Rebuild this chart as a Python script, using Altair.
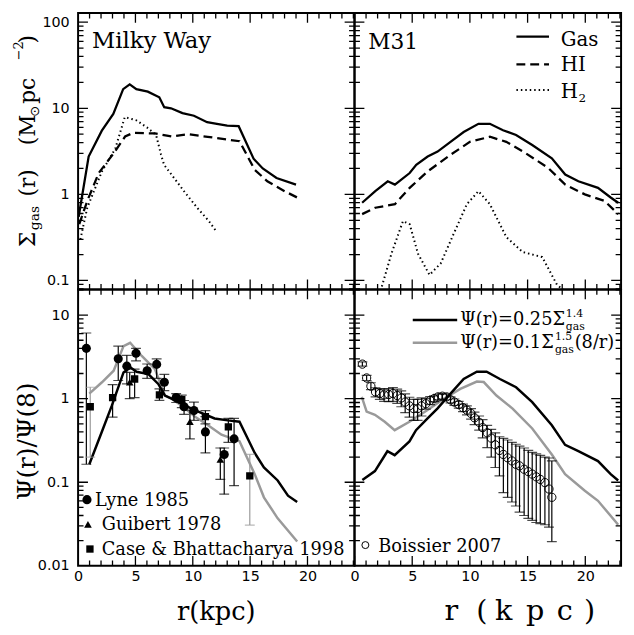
import math
import altair as alt
import pandas as pd

alt.data_transformers.consolidate_datasets = False

# ---------------- data ----------------
# Milky Way gas surface densities (Msun/pc^2)
mw_gas_r = [0.05, 0.92, 2.07, 3.07, 3.93, 4.5, 5.08, 6.08, 7.08, 7.51, 8.1, 9.1, 10.1, 11.25, 12.1, 13.0, 14.0, 15.3, 16.1, 17.3, 19.0]
mw_gas_v = [0.55, 2.75, 5.5, 8.6, 16.7, 19.0, 16.7, 15.6, 13.4, 10.3, 10.0, 8.8, 8.2, 6.9, 6.6, 6.3, 6.2, 2.6, 2.0, 1.55, 1.3]
mw_hi_r = [0.1, 0.8, 1.8, 3.1, 4.1, 4.83, 6.7, 8.15, 9.6, 11.3, 14.07, 15.4, 16.5, 18.0, 19.1]
mw_hi_v = [0.45, 0.84, 1.77, 3.0, 4.7, 5.2, 5.1, 4.7, 5.0, 4.66, 4.15, 1.93, 1.42, 1.09, 0.92]
mw_h2_r = [0.2, 0.8, 2.08, 3.24, 4.07, 5.08, 6.0, 6.8, 7.23, 7.5, 8.37, 9.23, 10.38, 11.4, 12.0]
mw_h2_v = [0.3, 0.7, 1.85, 3.4, 7.9, 7.25, 6.0, 4.9, 2.9, 2.2, 1.55, 1.09, 0.70, 0.49, 0.38]

# M31 gas surface densities
m31_gas_r = [0.66, 1.8, 2.88, 3.5, 4.78, 5.35, 6.34, 7.2, 8.32, 9.46, 10.74, 11.73, 12.87, 14.0, 15.4, 17.1, 18.26, 19.4, 21.1, 22.2, 22.85]
m31_gas_v = [0.80, 1.09, 1.42, 1.3, 1.77, 2.2, 2.75, 3.14, 4.08, 5.3, 6.6, 6.6, 5.56, 4.9, 3.74, 2.63, 1.7, 1.42, 1.19, 0.92, 0.80]
m31_hi_r = [0.66, 1.8, 3.5, 4.78, 6.34, 8.32, 10.0, 11.73, 13.15, 14.85, 16.8, 18.26, 19.96, 21.66, 22.85]
m31_hi_v = [0.59, 0.70, 0.77, 1.19, 1.85, 2.88, 4.08, 4.67, 4.08, 3.0, 2.02, 1.3, 1.0, 0.84, 0.59]
m31_h2_r = [2.37, 3.2, 4.2, 4.78, 5.5, 6.5, 7.47, 8.6, 9.74, 10.74, 11.73, 13.15, 14.57, 16.27, 17.55, 18.5]
m31_h2_v = [0.085, 0.205, 0.49, 0.45, 0.205, 0.116, 0.158, 0.35, 0.77, 1.09, 0.77, 0.32, 0.214, 0.187, 0.089, 0.07]

# Milky Way star formation models, normalised at 8 kpc
mw_k_r = [0.98, 2.08, 2.95, 3.96, 4.54, 5.1, 6.13, 6.99, 7.57, 8.15, 9.16, 10.17, 11.9, 13.06, 14.07, 15.4, 16.2, 17.4, 18.3, 19.1]
mw_k_v = [0.164, 0.405, 0.83, 2.06, 2.37, 2.1, 1.97, 1.5, 1.09, 1.0, 0.85, 0.73, 0.58, 0.55, 0.53, 0.224, 0.15, 0.105, 0.069, 0.058]
mw_g_r = [0.98, 2.08, 3.1, 3.96, 4.54, 5.55, 6.7, 7.57, 8.15, 9.16, 10.17, 11.3, 12.5, 14.07, 15.4, 16.2, 17.4, 19.1]
mw_g_v = [1.15, 1.57, 2.16, 4.25, 4.66, 3.24, 2.26, 1.09, 1.0, 0.80, 0.61, 0.485, 0.37, 0.31, 0.125, 0.066, 0.037, 0.0195]

# M31 star formation models
m31_k_r = [0.68, 1.77, 2.85, 3.48, 4.76, 5.33, 6.33, 7.18, 8.32, 9.46, 10.6, 11.45, 12.6, 14.0, 15.4, 17.1, 18.25, 19.4, 21.1, 22.2, 22.85]
m31_k_v = [0.106, 0.136, 0.235, 0.211, 0.308, 0.42, 0.58, 0.76, 1.15, 1.72, 2.1, 2.1, 1.72, 1.37, 0.91, 0.48, 0.28, 0.235, 0.179, 0.125, 0.105]
m31_g_r = [0.63, 1.05, 1.77, 2.62, 3.48, 4.76, 6.33, 7.75, 9.17, 10.6, 11.2, 12.3, 13.7, 15.4, 17.1, 18.25, 19.96, 21.1, 22.85]
m31_g_v = [1.05, 0.70, 0.64, 0.53, 0.42, 0.53, 0.73, 1.0, 1.31, 1.6, 1.58, 1.09, 0.76, 0.44, 0.215, 0.125, 0.079, 0.06, 0.031]

# Observations (Milky Way)
lyne_r = [0.72, 3.5, 4.25, 5.05, 6.02, 6.85, 7.52, 8.55, 9.24, 10.1, 11.1, 12.74, 13.6]
lyne_v = [4.0, 3.0, 2.45, 3.5, 2.16, 2.57, 1.57, 1.03, 0.80, 0.72, 0.40, 0.215, 0.33]
lyne_lo = [0.164, 1.65, 1.5, 2.83, 1.75, 1.75, 1.25, 0.9, 0.65, 0.55, 0.224, 0.072, 0.091]
lyne_hi = [6.1, 4.25, 3.3, 4.0, 2.6, 3.0, 1.95, 1.15, 0.95, 0.91, 0.61, 0.257, 0.58]
gui_r = [4.5, 9.75, 12.4]
gui_v = [1.57, 0.53, 0.187]
gui_lo = [1.0, 0.33, 0.108]
gui_hi = [2.06, 0.73, 0.257]
case_r = [1.06, 3.01, 4.93, 7.09, 9.04, 11.1, 13.1, 14.97]
case_v = [0.80, 1.03, 1.72, 1.11, 0.97, 0.61, 0.46, 0.119]
case_lo = [0.2, 0.6, 1.03, 0.955, 0.78, 0.5, 0.3, 0.0307]
case_hi = [1.37, 1.47, 2.26, 1.31, 1.1, 0.72, 0.58, 0.215]
case_gray_bar = [True, False, False, False, False, False, False, True]

# Observations (M31, Boissier 2007)
bo_r = [0.68, 1.05, 1.42, 1.82, 2.19, 2.56, 2.96, 3.33, 3.70, 4.05, 4.39, 4.76, 5.13, 5.47, 5.81, 6.18,
        6.55, 6.89, 7.24, 7.61, 7.98, 8.32, 8.66, 9.03, 9.40, 9.74, 10.1, 10.4, 10.8, 11.1, 11.5, 11.85,
        12.2, 12.56, 12.9, 13.27, 13.64, 13.98, 14.3, 14.7, 15.06, 15.4, 15.75, 16.1, 16.5, 16.85, 17.1]
bo_v = [2.59, 1.77, 1.41, 1.20, 1.15, 1.11, 1.12, 1.15, 1.09, 1.02, 0.91, 0.82, 0.76, 0.76, 0.82, 0.87,
        0.95, 1.0, 1.05, 1.07, 1.05, 0.97, 0.91, 0.85, 0.78, 0.73, 0.665, 0.59, 0.52, 0.45, 0.39, 0.337,
        0.28, 0.24, 0.215, 0.196, 0.18, 0.164, 0.157, 0.143, 0.134, 0.125, 0.116, 0.108, 0.099, 0.083, 0.066]
bo_lo = [2.45, 1.65, 1.28, 1.05, 0.98, 0.93, 0.92, 0.93, 0.88, 0.80, 0.68, 0.60, 0.55, 0.55, 0.62, 0.75,
         0.85, 0.92, 0.97, 0.99, 0.97, 0.89, 0.83, 0.77, 0.70, 0.64, 0.57, 0.49, 0.42, 0.34, 0.26, 0.2,
         0.15, 0.119, 0.075, 0.066, 0.058, 0.052, 0.044, 0.04, 0.037, 0.035, 0.033, 0.032, 0.031, 0.029, 0.0195]
bo_hi = [2.75, 1.9, 1.55, 1.35, 1.32, 1.3, 1.32, 1.36, 1.3, 1.24, 1.14, 1.04, 0.98, 0.98, 1.02, 1.0,
         1.06, 1.08, 1.13, 1.15, 1.13, 1.05, 0.99, 0.93, 0.86, 0.82, 0.76, 0.69, 0.62, 0.56, 0.48, 0.43,
         0.39, 0.35, 0.335, 0.32, 0.3, 0.285, 0.27, 0.257, 0.24, 0.228, 0.218, 0.21, 0.2, 0.195, 0.18]

# axis ticks / labels
x_major = [0, 5, 10, 15, 20]
x_minor_left = [1, 2, 3, 4, 6, 7, 8, 9, 11, 12, 13, 14, 16, 17, 18, 19, 21, 22, 23, 24]
x_minor_right = [1, 2, 3, 4, 6, 7, 8, 9, 11, 12, 13, 14, 16, 17, 18, 19, 21, 22, 23]
y_major_top = [0.1, 1, 10, 100]
y_minor_top = [0.08, 0.09, 0.2, 0.3, 0.4, 0.5, 0.6, 0.7, 0.8, 0.9, 2, 3, 4, 5, 6, 7, 8, 9,
               20, 30, 40, 50, 60, 70, 80, 90]
y_major_bot = [0.01, 0.1, 1, 10]
y_minor_bot = [0.02, 0.03, 0.04, 0.05, 0.06, 0.07, 0.08, 0.09, 0.2, 0.3, 0.4, 0.5, 0.6, 0.7, 0.8, 0.9,
               2, 3, 4, 5, 6, 7, 8, 9, 20]

# ---------------- layout constants ----------------
SERIF = "DejaVu Serif"
SANS = "DejaVu Sans"
GRAY = "#9a9a9a"
W_L, W_R, H = 280, 270, 280
XL, XR = [0, 24.1], [0, 23.1]
YT, YB = [0.0788, 128], [0.01, 20.3]
MAJ, MIN = 10, 5.5   # tick lengths in pixels


def xsc(dom):
    return alt.Scale(domain=dom, nice=False, zero=False)


def ysc(dom):
    return alt.Scale(type="log", domain=dom, nice=False)


def df_of(r, v, lo=None, hi=None):
    d = {"r": r, "v": v}
    if lo is not None:
        d["lo"] = lo
        d["hi"] = hi
    return pd.DataFrame(d)


def line(r, v, xd, yd, color="black", dash=None, width=2.3):
    kw = dict(color=color, strokeWidth=width, clip=True)
    if dash:
        kw["strokeDash"] = dash
    return alt.Chart(df_of(r, v)).mark_line(**kw).encode(
        x=alt.X("r:Q", scale=xsc(xd), axis=None),
        y=alt.Y("v:Q", scale=ysc(yd), axis=None),
    )


def errbars(df, xd, yd, color="black"):
    base = alt.Chart(df)
    bar = base.mark_rule(color=color, strokeWidth=1.2, clip=True).encode(
        x=alt.X("r:Q", scale=xsc(xd), axis=None),
        y=alt.Y("lo:Q", scale=ysc(yd), axis=None),
        y2="hi:Q",
    )
    caps = []
    for fld in ("lo", "hi"):
        caps.append(base.mark_tick(color=color, orient="horizontal", size=10, thickness=1.2, clip=True).encode(
            x=alt.X("r:Q", scale=xsc(xd), axis=None),
            y=alt.Y(fld + ":Q", scale=ysc(yd), axis=None),
        ))
    return [bar] + caps


def points(df, xd, yd, shape, size, filled=True):
    kw = dict(shape=shape, size=size, color="black", opacity=1, clip=True, filled=filled)
    if not filled:
        kw["strokeWidth"] = 1
    return alt.Chart(df).mark_point(**kw).encode(
        x=alt.X("r:Q", scale=xsc(xd), axis=None),
        y=alt.Y("v:Q", scale=ysc(yd), axis=None),
    )


def txt(s, x, y, size, font=SERIF, align="left", baseline="alphabetic", angle=None, color="black"):
    kw = dict(align=align, baseline=baseline, fontSize=size, font=font, color=color)
    if angle is not None:
        kw["angle"] = angle
    return alt.Chart(pd.DataFrame({"label": [s]})).mark_text(**kw).encode(
        text="label:N", x=alt.value(x), y=alt.value(y)
    )


def hline(x1, x2, y, color="black", dash=None, width=2.3):
    kw = dict(color=color, strokeWidth=width)
    if dash:
        kw["strokeDash"] = dash
    return alt.Chart(pd.DataFrame({"a": [0]})).mark_rule(**kw).encode(
        x=alt.value(x1), x2=alt.value(x2), y=alt.value(y)
    )


def symbol(x, y, shape, size, filled=True):
    kw = dict(shape=shape, size=size, color="black", opacity=1, filled=filled)
    if not filled:
        kw["strokeWidth"] = 1
    return alt.Chart(pd.DataFrame({"a": [0]})).mark_point(**kw).encode(
        x=alt.value(x), y=alt.value(y)
    )


def frame_ticks(xd, yd, W, Hh, xminor, ymaj, ymin):
    """Inward frame ticks drawn as short rules (like error bars) through the panel scales."""
    px_per_dec = Hh / math.log10(yd[1] / yd[0])
    kpc_per_px = (xd[1] - xd[0]) / W
    out = []
    for vals, ln in ((x_major, MAJ), (xminor, MIN)):
        f = 10 ** (ln / px_per_dec)
        n = len(vals)
        for lo, hi in ((yd[0], yd[0] * f), (yd[1] / f, yd[1])):
            d = pd.DataFrame({"r": vals, "lo": [lo] * n, "hi": [hi] * n})
            out.append(alt.Chart(d).mark_rule(color="black", strokeWidth=1.3, clip=True).encode(
                x=alt.X("r:Q", scale=xsc(xd), axis=None),
                y=alt.Y("lo:Q", scale=ysc(yd), axis=None),
                y2="hi:Q",
            ))
    for vals, ln in ((ymaj, MAJ), (ymin, MIN)):
        dx = ln * kpc_per_px
        n = len(vals)
        for lo, hi in ((xd[0], xd[0] + dx), (xd[1] - dx, xd[1])):
            d = pd.DataFrame({"v": vals, "lo": [lo] * n, "hi": [hi] * n})
            out.append(alt.Chart(d).mark_rule(color="black", strokeWidth=1.3, clip=True).encode(
                y=alt.Y("v:Q", scale=ysc(yd), axis=None),
                x=alt.X("lo:Q", scale=xsc(xd), axis=None),
                x2="hi:Q",
            ))
    return out


def label_layer(xd, yd, xlab, ylab):
    df = pd.DataFrame({"x": [xd[0] + 0.5], "y": [yd[0] * 1.5]})
    base = alt.Chart(df).mark_point(opacity=0, size=1)
    if xlab is not None:
        xa = alt.Axis(orient="bottom", values=xlab, ticks=False, domain=False, grid=False,
                      labelFont=SANS, labelFontSize=14.5, labelPadding=4, labelFlush=False,
                      labelOverlap=False, labelColor="black", format="d", title=None)
    else:
        xa = None
    if ylab is not None:
        ya = alt.Axis(orient="left", values=ylab, ticks=False, domain=False, grid=False,
                      labelFont=SANS, labelFontSize=14.5, labelPadding=9, labelFlush=False,
                      labelOverlap=False, labelColor="black", format="~g", title=None)
    else:
        ya = None
    return [base.encode(
        x=alt.X("x:Q", scale=xsc(xd), axis=xa),
        y=alt.Y("y:Q", scale=ysc(yd), axis=ya),
    )]


def panel(layers, W):
    return alt.layer(*layers).resolve_scale(x="independent", y="independent").properties(width=W, height=H)


DASH = [9, 5]
DOT = [1.5, 3]

# ---------------- top-left: Milky Way gas ----------------
tl_layers = (
    [line(mw_gas_r, mw_gas_v, XL, YT),
     line(mw_hi_r, mw_hi_v, XL, YT, dash=DASH),
     line(mw_h2_r, mw_h2_v, XL, YT, dash=DOT, width=2)]
    + frame_ticks(XL, YT, W_L, H, x_minor_left, y_major_top, y_minor_top)
    + label_layer(XL, YT, None, y_major_top)
    + [txt("Milky Way", 14, 35, 23),
       txt("Σ", -44, 237, 22, angle=270),
       txt("gas", -40, 220, 14, angle=270),
       txt("(r)", -44, 186, 22, angle=270),
       txt("(M", -44, 134, 22, angle=270),
       txt("⊙", -40, 105, 13, font=SANS, angle=270),
       txt("pc", -44, 92, 22, angle=270),
       txt("−2", -56, 48, 13, angle=270),
       txt(")", -44, 31, 22, angle=270)]
)

# ---------------- top-right: M31 gas ----------------
tr_layers = (
    [line(m31_gas_r, m31_gas_v, XR, YT),
     line(m31_hi_r, m31_hi_v, XR, YT, dash=DASH),
     line(m31_h2_r, m31_h2_v, XR, YT, dash=DOT, width=2)]
    + frame_ticks(XR, YT, W_R, H, x_minor_right, y_major_top, y_minor_top)
    + [txt("M31", 14, 36, 22),
       hline(164, 197, 24),
       hline(164, 197, 52, dash=DASH),
       hline(164, 197, 78, dash=DOT, width=2),
       txt("Gas", 209, 33, 20),
       txt("HI", 209, 59, 20),
       txt("H", 209, 86, 20),
       txt("2", 227, 90, 12)]
)

# ---------------- bottom-left: Milky Way SFR ----------------
lyne_df = df_of(lyne_r, lyne_v, lyne_lo, lyne_hi)
gui_df = df_of(gui_r, gui_v, gui_lo, gui_hi)
case_df = df_of(case_r, case_v, case_lo, case_hi)
case_df["gray"] = case_gray_bar
bl_layers = (
    [line(mw_g_r, mw_g_v, XL, YB, color=GRAY, width=2.5),
     line(mw_k_r, mw_k_v, XL, YB, width=2.5)]
    + errbars(lyne_df, XL, YB)
    + errbars(gui_df, XL, YB)
    + errbars(case_df[~case_df["gray"]], XL, YB)
    + errbars(case_df[case_df["gray"]], XL, YB, color=GRAY)
    + [points(lyne_df, XL, YB, "circle", 85),
       points(gui_df, XL, YB, "triangle-up", 60),
       points(case_df, XL, YB, "square", 55)]
    + frame_ticks(XL, YB, W_L, H, x_minor_left, y_major_bot, y_minor_bot)
    + label_layer(XL, YB, x_major, y_major_bot)
    + [symbol(9, 213, "circle", 85),
       txt("Lyne 1985", 17, 219, 18),
       symbol(10, 238, "triangle-up", 60),
       txt("Guibert 1978", 24, 244, 18),
       symbol(12, 263, "square", 55),
       txt("Case & Bhattacharya 1998", 24, 269, 18),
       txt("Ψ(r)/Ψ(8)", -44, 154, 25, align="center", angle=270),
       txt("r(kpc)", 140, 335, 26, align="center")]
)

# ---------------- bottom-right: M31 SFR ----------------
bo_df = df_of(bo_r, bo_v, bo_lo, bo_hi)
br_layers = (
    [line(m31_g_r, m31_g_v, XR, YB, color=GRAY, width=2.5),
     line(m31_k_r, m31_k_v, XR, YB, width=2.5)]
    + errbars(bo_df, XR, YB)
    + [points(bo_df, XR, YB, "circle", 70, filled=False)]
    + frame_ticks(XR, YB, W_R, H, x_minor_right, y_major_bot, y_minor_bot)
    + label_layer(XR, YB, x_major, None)
    + [hline(59, 104, 31, width=2.6),
       txt("Ψ(r)=0.25Σ", 107, 36, 18),
       txt("1.4", 214, 28, 11),
       txt("gas", 214, 41, 11),
       hline(59, 104, 54, color=GRAY, width=2.6),
       txt("Ψ(r)=0.1Σ", 107, 59, 18),
       txt("1.5", 203, 51, 11),
       txt("gas", 203, 64, 11),
       txt("(8/r)", 223, 59, 18),
       symbol(11, 259, "circle", 50, filled=False),
       txt("Boissier 2007", 24, 266, 18),
       txt("r", 98, 335, 29, align="center"),
       txt("(", 129, 335, 29, align="center"),
       txt("k", 151, 335, 29, align="center"),
       txt("p", 183, 335, 29, align="center"),
       txt("c", 213, 335, 29, align="center"),
       txt(")", 238, 335, 29, align="center")]
)

chart = alt.concat(
    panel(tl_layers, W_L), panel(tr_layers, W_R),
    panel(bl_layers, W_L), panel(br_layers, W_R),
    columns=2, spacing=0, bounds="flush",
).properties(
    padding={"left": 4, "top": 0, "right": 4, "bottom": 0}
).configure_view(stroke="black", strokeWidth=2)

chart.save("out.html", embed_options={"renderer": "svg", "actions": False})
